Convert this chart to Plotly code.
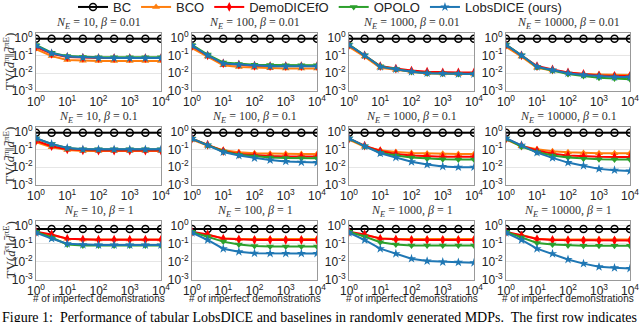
"""Tabular LobsDICE vs baselines: TV distance over # of imperfect demos (3x4 grid)."""
import plotly.graph_objects as go
from plotly.subplots import make_subplots

N_IMPERFECT = [1, 3.16, 10, 31.6, 100, 316, 1000, 3162, 10000]
N_EXPERT = [10, 100, 1000, 10000]
BETAS = ["0.01", "0.1", "1"]

METHODS = ["BC", "BCO", "DemoDICEfO", "OPOLO", "LobsDICE (ours)"]

# one list per panel, row-major (beta rows, N_E columns)
BC_TV = [
    [0.85] * 9, [0.85] * 9, [0.85] * 9, [0.85] * 9,
    [0.85] * 9, [0.85] * 9, [0.85] * 9, [0.85] * 9,
    [0.65] * 9, [0.65] * 9, [0.65] * 9, [0.65] * 9,
]
BCO_TV = [
    [0.22, 0.09, 0.055, 0.05, 0.048, 0.048, 0.048, 0.048, 0.048],
    [0.25, 0.085, 0.028, 0.022, 0.02, 0.019, 0.018, 0.018, 0.018],
    [0.3, 0.085, 0.02, 0.015, 0.012, 0.01, 0.0095, 0.009, 0.009],
    [0.3, 0.085, 0.02, 0.014, 0.011, 0.009, 0.0085, 0.008, 0.008],
    [0.25, 0.13, 0.09, 0.08, 0.08, 0.08, 0.08, 0.08, 0.08],
    [0.35, 0.16, 0.09, 0.068, 0.06, 0.057, 0.056, 0.055, 0.055],
    [0.35, 0.14, 0.09, 0.07, 0.062, 0.058, 0.056, 0.055, 0.055],
    [0.35, 0.15, 0.1, 0.078, 0.068, 0.063, 0.06, 0.06, 0.06],
    [0.38, 0.3, 0.19, 0.17, 0.17, 0.17, 0.17, 0.17, 0.17],
    [0.38, 0.3, 0.2, 0.18, 0.18, 0.18, 0.18, 0.18, 0.18],
    [0.38, 0.3, 0.2, 0.18, 0.18, 0.18, 0.18, 0.18, 0.18],
    [0.38, 0.3, 0.19, 0.17, 0.17, 0.17, 0.17, 0.17, 0.17],
]
DEMODICE_TV = [
    [0.3, 0.12, 0.08, 0.072, 0.07, 0.07, 0.07, 0.07, 0.07],
    [0.33, 0.1, 0.035, 0.03, 0.026, 0.025, 0.025, 0.025, 0.025],
    [0.38, 0.1, 0.025, 0.018, 0.014, 0.012, 0.011, 0.011, 0.011],
    [0.38, 0.1, 0.025, 0.016, 0.011, 0.009, 0.0075, 0.007, 0.007],
    [0.3, 0.15, 0.1, 0.088, 0.085, 0.085, 0.085, 0.085, 0.085],
    [0.4, 0.18, 0.08, 0.055, 0.046, 0.042, 0.04, 0.04, 0.04],
    [0.4, 0.16, 0.08, 0.055, 0.045, 0.04, 0.038, 0.038, 0.038],
    [0.4, 0.16, 0.085, 0.056, 0.045, 0.04, 0.038, 0.037, 0.037],
    [0.45, 0.32, 0.19, 0.17, 0.165, 0.165, 0.165, 0.165, 0.165],
    [0.45, 0.32, 0.19, 0.17, 0.16, 0.16, 0.16, 0.16, 0.16],
    [0.45, 0.32, 0.19, 0.17, 0.16, 0.16, 0.16, 0.16, 0.16],
    [0.45, 0.28, 0.18, 0.16, 0.155, 0.15, 0.15, 0.15, 0.15],
]
OPOLO_TV = [
    [0.38, 0.14, 0.09, 0.08, 0.078, 0.078, 0.078, 0.078, 0.078],
    [0.38, 0.11, 0.04, 0.033, 0.03, 0.029, 0.028, 0.028, 0.028],
    [0.4, 0.1, 0.024, 0.017, 0.012, 0.01, 0.0095, 0.009, 0.009],
    [0.4, 0.1, 0.022, 0.014, 0.009, 0.007, 0.0055, 0.005, 0.0045],
    [0.4, 0.2, 0.12, 0.1, 0.1, 0.1, 0.1, 0.1, 0.1],
    [0.4, 0.17, 0.075, 0.05, 0.04, 0.035, 0.033, 0.032, 0.032],
    [0.4, 0.15, 0.065, 0.045, 0.035, 0.03, 0.028, 0.027, 0.027],
    [0.4, 0.14, 0.07, 0.045, 0.035, 0.03, 0.028, 0.027, 0.027],
    [0.45, 0.22, 0.09, 0.08, 0.08, 0.08, 0.08, 0.08, 0.08],
    [0.45, 0.25, 0.13, 0.09, 0.075, 0.07, 0.07, 0.07, 0.07],
    [0.45, 0.25, 0.12, 0.09, 0.08, 0.08, 0.08, 0.08, 0.08],
    [0.45, 0.22, 0.11, 0.09, 0.08, 0.078, 0.077, 0.077, 0.077],
]
LOBSDICE_TV = [
    [0.35, 0.13, 0.085, 0.075, 0.072, 0.07, 0.07, 0.07, 0.07],
    [0.35, 0.1, 0.035, 0.03, 0.026, 0.024, 0.024, 0.024, 0.024],
    [0.38, 0.1, 0.023, 0.017, 0.012, 0.01, 0.0095, 0.009, 0.009],
    [0.38, 0.1, 0.023, 0.015, 0.01, 0.008, 0.0067, 0.006, 0.006],
    [0.42, 0.2, 0.12, 0.1, 0.1, 0.1, 0.1, 0.1, 0.1],
    [0.4, 0.17, 0.07, 0.045, 0.032, 0.025, 0.021, 0.019, 0.018],
    [0.42, 0.15, 0.06, 0.035, 0.02, 0.014, 0.011, 0.01, 0.01],
    [0.42, 0.17, 0.065, 0.033, 0.018, 0.012, 0.008, 0.0068, 0.006],
    [0.4, 0.19, 0.1, 0.088, 0.085, 0.085, 0.085, 0.085, 0.085],
    [0.4, 0.16, 0.053, 0.036, 0.03, 0.029, 0.029, 0.029, 0.029],
    [0.4, 0.16, 0.053, 0.028, 0.015, 0.011, 0.0098, 0.0094, 0.009],
    [0.4, 0.16, 0.053, 0.028, 0.0135, 0.008, 0.0053, 0.0047, 0.0043],
]

X_TICKS = [1, 10, 100, 1000, 10000]
X_TICKTEXT = ["10<sup>0</sup>", "10<sup>1</sup>", "10<sup>2</sup>", "10<sup>3</sup>", "10<sup>4</sup>"]
Y_TICKS = [1, 0.1, 0.01, 0.001]
Y_TICKTEXT = ["10<sup>0</sup>", "10<sup>-1</sup>", "10<sup>-2</sup>", "10<sup>-3</sup>"]

STYLE = {
    "BC": dict(color="black", symbol="circle-open", size=7),
    "BCO": dict(color="#ff7f0e", symbol="triangle-up", size=7),
    "DemoDICEfO": dict(color="#ff0000", symbol="diamond-tall", size=7),
    "OPOLO": dict(color="#2ca02c", symbol="triangle-down", size=7),
    "LobsDICE (ours)": dict(color="#1f77b4", symbol="star", size=7),
}
SERIES = [BC_TV, BCO_TV, DEMODICE_TV, OPOLO_TV, LOBSDICE_TV]

W, H = 640, 322
COLS_PX = [(36, 161), (192, 317), (349, 474), (506, 630)]
ROWS_PX = [(33, 91), (127, 185), (221, 280)]
TICK_FONT = dict(family="Liberation Sans", size=12, color="#222")

fig = make_subplots(rows=3, cols=4)

for r in range(3):
    for c in range(4):
        k = r * 4 + c
        for name, data in zip(METHODS, SERIES):
            st = STYLE[name]
            fig.add_trace(
                go.Scatter(
                    x=N_IMPERFECT, y=data[k], mode="lines+markers", name=name,
                    showlegend=(k == 0),
                    line=dict(color=st["color"], width=2),
                    marker=dict(color=st["color"], symbol=st["symbol"], size=st["size"],
                                line=dict(width=1.5 if name == "BC" else 0, color=st["color"])),
                ),
                row=r + 1, col=c + 1,
            )
        idx = "" if k == 0 else str(k + 1)
        x0, x1 = COLS_PX[c]
        y0, y1 = ROWS_PX[r]
        fig.layout["xaxis" + idx].update(
            domain=[x0 / W, x1 / W], type="log", range=[0, 4], automargin=False,
            tickvals=X_TICKS, ticktext=X_TICKTEXT, showgrid=False,
            showline=True, mirror=True, linecolor="#999999", linewidth=1,
            ticks="", zeroline=False, tickfont=TICK_FONT,
        )
        fig.layout["yaxis" + idx].update(
            domain=[1 - y1 / H, 1 - y0 / H], type="log", range=[-3, 0.25], automargin=False,
            tickvals=Y_TICKS, ticktext=Y_TICKTEXT, showgrid=True, gridcolor="#e6e6e6",
            showline=True, mirror=True, linecolor="#999999", linewidth=1,
            ticks="", zeroline=False, tickfont=TICK_FONT,
        )
        fig.add_annotation(
            text=f"<i>N<sub>E</sub></i> = {N_EXPERT[c]}, <i>β</i> = {BETAS[r]}",
            x=(x0 + x1) / 2 / W, y=1 - (y0 - 10) / H, xref="paper", yref="paper",
            xanchor="center", yanchor="middle", showarrow=False,
            font=dict(family="Liberation Serif", size=12, color="#333"),
        )
        if r == 2:
            fig.add_annotation(
                text="# of imperfect demonstrations",
                x=(x0 + x1) / 2 / W, y=1 - 298 / H, xref="paper", yref="paper",
                xanchor="center", yanchor="middle", showarrow=False,
                font=dict(family="Liberation Sans", size=10, color="#222"),
            )
    fig.add_annotation(
        text="TV(<i>d̄</i><sup>π</sup>‖<i>d̄</i><sup>πE</sup>)",
        x=9 / W, y=1 - (ROWS_PX[r][0] + ROWS_PX[r][1]) / 2 / H,
        xref="paper", yref="paper", textangle=-90,
        xanchor="center", yanchor="middle", showarrow=False,
        font=dict(family="Liberation Serif", size=13, color="#333"),
    )

fig.add_annotation(
    text="Figure 1:  Performance of tabular LobsDICE and baselines in randomly generated MDPs.  The first row indicates",
    x=0, y=1 - 308 / H, xref="paper", yref="paper", xanchor="left", yanchor="top",
    showarrow=False, font=dict(family="Liberation Serif", size=14, color="black"),
)

fig.update_layout(
    width=W, height=H,
    margin=dict(l=0, r=0, t=0, b=0, autoexpand=False),
    paper_bgcolor="white", plot_bgcolor="white",
    legend=dict(
        orientation="h", x=0.5, xanchor="center", y=1 + 8 / H, yanchor="top",
        font=dict(family="Liberation Sans", size=13, color="#222"),
        bgcolor="rgba(0,0,0,0)", tracegroupgap=0,
    ),
)

fig.write_html("out.html", config={"displayModeBar": False},
               post_script="document.body.style.margin = '0';")
